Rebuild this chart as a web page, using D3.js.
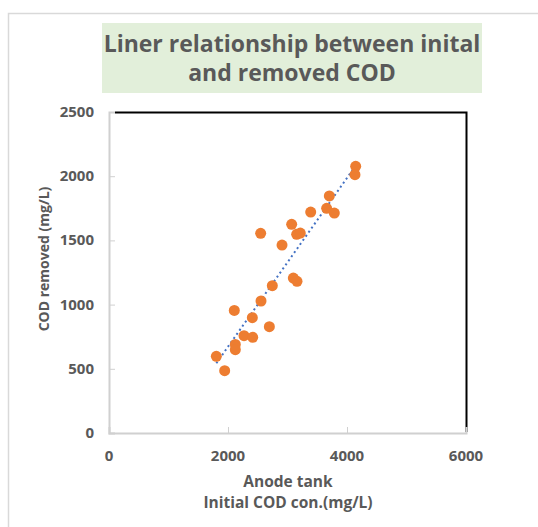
<!DOCTYPE html>
<html>
<head>
<meta charset="utf-8">
<script src="https://cdn.jsdelivr.net/npm/d3@7"></script>
<style>
  body { margin: 0; background: #fff; }
  svg { display: block; font-family: "Open Sans", "Noto Sans", sans-serif; }
</style>
</head>
<body>
<div id="chart"></div>
<script>
const width = 538;
const height = 527;

// Data
const initialCOD = [4146, 4134, 3703, 3658, 3787, 3390, 3070, 3154, 3215, 2549, 2908,
                    3098, 3160, 2745, 2555, 2106, 2409, 2695, 2269, 2415, 2123, 2123, 1804, 1944];
const removedCOD = [2077, 2012, 1846, 1750, 1713, 1721, 1625, 1547, 1557, 1555, 1464,
                    1207, 1181, 1147, 1028, 955, 898, 828, 758, 745, 690, 649, 597, 485];
const xTicks = [0, 2000, 4000, 6000];
const yTicks = [0, 500, 1000, 1500, 2000, 2500];
const titleLines = ['Liner relationship between inital', 'and removed COD'];
const xTitleLines = ['Anode tank', 'Initial COD con.(mg/L)'];
const yTitle = 'COD removed (mg/L)';

const points = initialCOD.map((x, i) => ({ x: x, y: removedCOD[i] }));

// Plot area
const plotLeft = 109, plotRight = 466, plotTop = 112, plotBottom = 433;
const textColor = '#595959';

const x = d3.scaleLinear().domain([0, 6000]).range([plotLeft, plotRight]);
const y = d3.scaleLinear().domain([0, 2500]).range([plotBottom, plotTop]);

const svg = d3.select('#chart')
    .append('svg')
    .attr('width', width)
    .attr('height', height);

// outer frame (left + top only visible)
svg.append('path')
    .attr('d', `M8.5,${height} V13.5 H${width}`)
    .attr('fill', 'none')
    .attr('stroke', '#d9d9d9')
    .attr('stroke-width', 1.5);

// Title box
svg.append('rect')
    .attr('x', 102).attr('y', 23)
    .attr('width', 380).attr('height', 70)
    .attr('fill', '#e2efda');

svg.selectAll('.title')
    .data(titleLines)
    .enter().append('text')
    .attr('class', 'title')
    .attr('x', 292)
    .attr('y', (d, i) => 52 + i * 29)
    .attr('text-anchor', 'middle')
    .attr('fill', textColor)
    .attr('font-size', 23)
    .attr('font-weight', 'bold')
    .text(d => d);

// black top and right border
svg.append('path')
    .attr('d', `M${plotLeft + 6},${plotTop + 0.5} H${plotRight + 0.5} V${plotBottom - 1}`)
    .attr('fill', 'none')
    .attr('stroke', '#000')
    .attr('stroke-width', 2);

// Axes (gray lines, ticks inside)
const xAxis = d3.axisTop(x).tickValues(xTicks).tickSize(6).tickFormat('');
const yAxis = d3.axisRight(y).tickValues(yTicks).tickSize(6).tickFormat('');

const gx = svg.append('g').attr('transform', `translate(0,${plotBottom})`).call(xAxis);
const gy = svg.append('g').attr('transform', `translate(${plotLeft},0)`).call(yAxis);
[gx, gy].forEach(g => {
    g.select('.domain').attr('stroke', '#d0d0d0').attr('stroke-width', 2);
    g.selectAll('.tick line').attr('stroke', '#d0d0d0').attr('stroke-width', 1);
});
gx.selectAll('.tick').filter(d => d === 0 || d === 6000).select('line').remove();

// Tick labels
svg.selectAll('.xlabel')
    .data(xTicks)
    .enter().append('text')
    .attr('x', d => x(d))
    .attr('y', 461)
    .attr('text-anchor', 'middle')
    .attr('fill', textColor)
    .attr('font-size', 15)
    .attr('font-weight', 'bold')
    .text(d => d);

svg.selectAll('.ylabel')
    .data(yTicks)
    .enter().append('text')
    .attr('x', 94)
    .attr('y', d => y(d) + 5)
    .attr('text-anchor', 'end')
    .attr('fill', textColor)
    .attr('font-size', 15)
    .attr('font-weight', 'bold')
    .text(d => d);

// Axis titles
svg.selectAll('.xtitle')
    .data(xTitleLines)
    .enter().append('text')
    .attr('x', 288)
    .attr('y', (d, i) => 487 + i * 21)
    .attr('text-anchor', 'middle')
    .attr('fill', textColor)
    .attr('font-size', 15.5)
    .attr('font-weight', 'bold')
    .text(d => d);

svg.append('text')
    .attr('transform', `translate(49,259) rotate(-90)`)
    .attr('text-anchor', 'middle')
    .attr('fill', textColor)
    .attr('font-size', 14)
    .attr('font-weight', 'bold')
    .text(yTitle);

// Linear trendline (least squares)
const mx = d3.mean(points, d => d.x);
const my = d3.mean(points, d => d.y);
const slope = d3.sum(points, d => (d.x - mx) * (d.y - my)) / d3.sum(points, d => (d.x - mx) ** 2);
const intercept = my - slope * mx;
const [x0, x1] = d3.extent(points, d => d.x);

svg.append('line')
    .attr('x1', x(x0)).attr('y1', y(slope * x0 + intercept))
    .attr('x2', x(x1)).attr('y2', y(slope * x1 + intercept))
    .attr('stroke', '#4472c4')
    .attr('stroke-width', 2)
    .attr('stroke-dasharray', '2,3');

// Points
svg.selectAll('.dot')
    .data(points)
    .enter().append('circle')
    .attr('cx', d => x(d.x))
    .attr('cy', d => y(d.y))
    .attr('r', 5.5)
    .attr('fill', '#ed7d31');
</script>
</body>
</html>
